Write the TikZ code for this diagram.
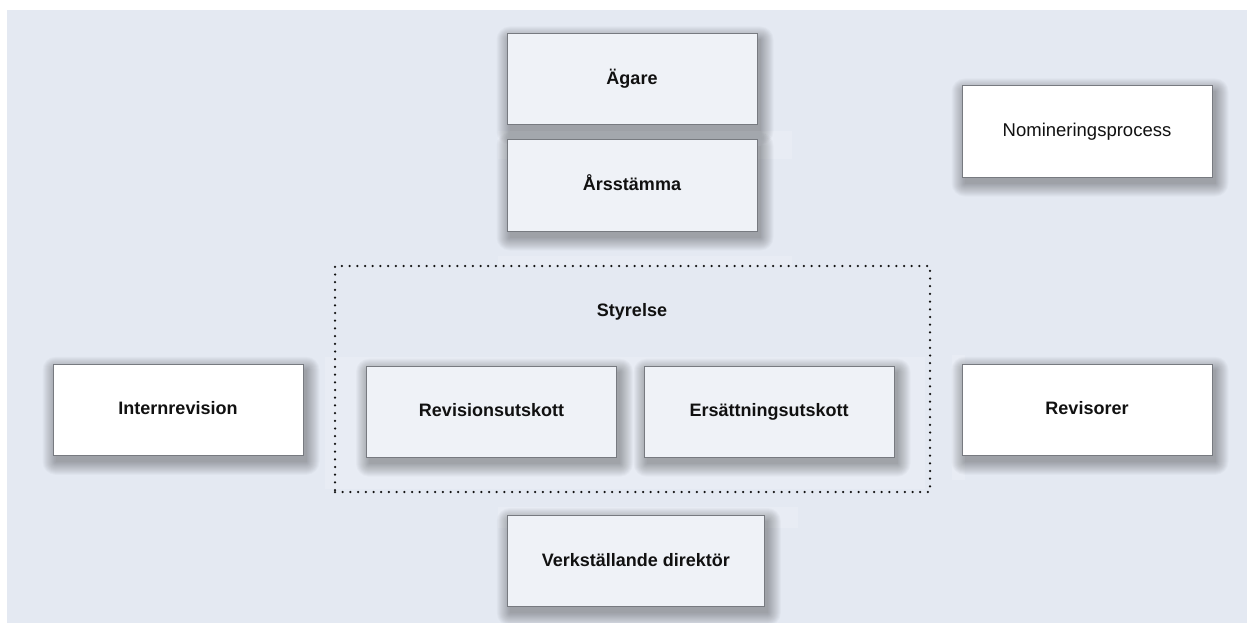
\documentclass[tikz,border=0pt]{standalone}
\usepackage{fontspec}
\setmainfont{Liberation Sans}
\usetikzlibrary{fit,backgrounds}
\pgfdeclarelayer{bgzero}
\pgfsetlayers{bgzero,background,main}
\definecolor{bgcol}{HTML}{E4E9F2}
\definecolor{bandcol}{HTML}{E8ECF4}
\definecolor{boxfill}{HTML}{EFF2F7}
\definecolor{boxline}{HTML}{777A80}
\definecolor{txtcol}{HTML}{111111}
\tikzset{
  orgbox/.style={draw=boxline, line width=1pt, fill=boxfill, inner sep=0pt,
    minimum width=250pt, minimum height=91pt, text=txtcol,
    text height=12.9pt, text depth=2.9pt,
    font=\fontsize{18}{21}\selectfont\bfseries},
  whitebox/.style={orgbox, fill=white},
  band/.style={fill=bandcol, draw=none},
  shadowlayer/.style={fill=black, opacity=0.022, draw=none},
  dotbox/.style={draw=txtcol, line width=2.5pt, line cap=round, dash pattern=on 0pt off 7.7pt, inner sep=0pt},
  lbl/.style={text=txtcol, font=\fontsize{18}{21}\selectfont\bfseries, inner sep=1pt}
}
\newcommand\boxshadow[1]{%
  \foreach \g in {13,12,...,0}{%
    \fill[shadowlayer, rounded corners={\g*1pt}]
      ([xshift={(3-\g)*1pt}, yshift={(-6+\g)*1pt}]#1.north west) rectangle
      ([xshift={(3+\g)*1pt}, yshift={(-6-\g)*1pt}]#1.south east);
  }%
}
\begin{document}
\begin{tikzpicture}[x=1pt,y=-1pt]
\useasboundingbox (0,0) rectangle (1247,623);
\begin{pgfonlayer}{bgzero}
\fill[white] (0,0) rectangle (1247,623);
\fill[bgcol] (7,10) rectangle (1247,623);
\fill[band] (498,131) rectangle (792,159);
\fill[band] (498,256) rectangle (792,266);
\fill[band] (325,357) rectangle (925,489);
\fill[band] (952,355) rectangle (965,480);
\fill[band] (498,507) rectangle (798,528);
\end{pgfonlayer}

\node[orgbox] (agare) at (632,79.5) {Ägare};
\node[orgbox] (arsst) at (632,185.5) {Årsstämma};
\node[whitebox, font=\fontsize{18.5}{22}\selectfont] (nomin) at (1087,131.5) {Nomineringsprocess};

\coordinate (dtl) at (335,266);
\coordinate (dbr) at (930,492);
\node[dotbox, fit=(dtl)(dbr)] (styr) {};
\node[lbl] (styrlbl) at (632,312) {Styrelse};

\node[orgbox] (revut) at (491.5,411.7) {Revisionsutskott};
\node[orgbox] (ersut) at (769,411.7) {Ersättningsutskott};
\node[whitebox] (intrev) at (178,409.8) {Internrevision};
\node[whitebox] (revis) at (1087,409.8) {Revisorer};
\node[orgbox, minimum width=257pt] (vd) at (635.8,561) {Verkställande direktör};

\begin{pgfonlayer}{background}
\boxshadow{agare}
\boxshadow{arsst}
\boxshadow{nomin}
\boxshadow{revut}
\boxshadow{ersut}
\boxshadow{intrev}
\boxshadow{revis}
\boxshadow{vd}
\end{pgfonlayer}
\end{tikzpicture}
\end{document}
